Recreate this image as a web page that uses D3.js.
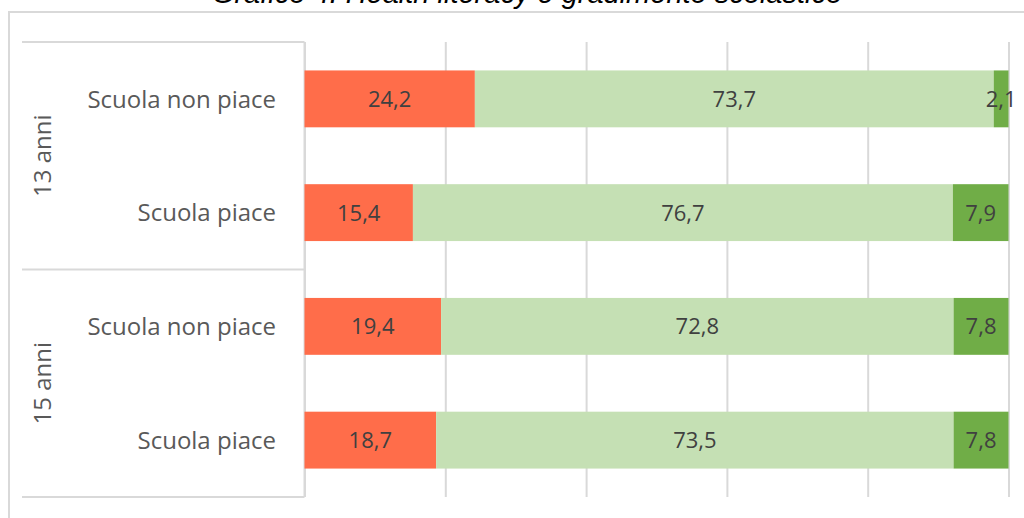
<!DOCTYPE html>
<html lang="it">
<head>
    <meta charset="UTF-8">
    <title>Grafico 4: Health literacy e gradimento scolastico</title>
    <script src="https://cdn.jsdelivr.net/npm/d3@7"></script>
    <style>
        body { margin: 0; background: #fff; }
        .grid line { stroke: #d9d9d9; stroke-width: 2px; }
        .grid .domain { display: none; }
        .box { stroke: #d9d9d9; stroke-width: 2px; fill: none; }
        .lbl { font-family: "Open Sans", sans-serif; fill: #595959; }
        .val { font-family: "Open Sans", sans-serif; fill: #404040; }
    </style>
</head>
<body>
    <svg width="1024" height="518"></svg>

    <script>
        // Data
        const title = "Grafico 4: Health literacy e gradimento scolastico";
        const groups = ["13 anni", "15 anni"];
        const rows = ["Scuola non piace", "Scuola piace", "Scuola non piace", "Scuola piace"];
        const lowValues = [24.2, 15.4, 19.4, 18.7];
        const midValues = [73.7, 76.7, 72.8, 73.5];
        const highValues = [2.1, 7.9, 7.8, 7.8];
        const colors = ["#ff6d4a", "#c5e0b4", "#70ad47"];
        const gridTicks = [0, 20, 40, 60, 80, 100];

        const svg = d3.select("svg");

        // Plot area
        const plotTop = 42, plotBottom = 497;
        const x = d3.scaleLinear().domain([0, 100]).range([304.5, 1008.5]);
        const y = d3.scaleBand().domain(d3.range(rows.length)).range([plotTop, plotBottom])
            .paddingInner(0.5).paddingOuter(0.25);

        // outer frame (runs past the picture on the right and bottom)
        svg.append("rect").attr("class", "box")
            .attr("x", 9).attr("y", 12).attr("width", 1030).attr("height", 520);

        // title, cut off at the top edge like in the source image
        svg.append("text")
            .attr("x", 527).attr("y", 3)
            .attr("text-anchor", "middle")
            .style("font-family", "'Liberation Sans', Arial, sans-serif")
            .style("font-style", "italic")
            .style("font-size", "29px")
            .style("fill", "#000")
            .text(title);

        // vertical gridlines
        svg.append("g").attr("class", "grid")
            .attr("transform", `translate(0,${plotBottom})`)
            .call(d3.axisBottom(x).tickValues(gridTicks).tickSize(-(plotBottom - plotTop)).tickFormat(""));

        // category box on the left
        const boxLeft = 22, boxRight = x(0);
        const groupEdges = [plotTop, (plotTop + plotBottom) / 2, plotBottom];
        svg.append("g").selectAll("line").data(groupEdges).join("line")
            .attr("class", "box")
            .attr("x1", boxLeft).attr("x2", boxRight)
            .attr("y1", d => d).attr("y2", d => d);
        svg.append("line").attr("class", "box")
            .attr("x1", boxRight).attr("x2", boxRight).attr("y1", plotTop).attr("y2", plotBottom);

        // stacked bars
        const segs = [];
        rows.forEach((r, i) => {
            let acc = 0;
            [lowValues[i], midValues[i], highValues[i]].forEach((v, k) => {
                segs.push({ i, k, v, x0: acc, x1: acc + v });
                acc += v;
            });
        });

        svg.append("g").selectAll("rect").data(segs).join("rect")
            .attr("x", d => x(d.x0))
            .attr("y", d => y(d.i))
            .attr("width", d => x(d.x1) - x(d.x0))
            .attr("height", y.bandwidth())
            .attr("fill", d => colors[d.k]);

        const fmt = v => v.toFixed(1).replace(".", ",");
        svg.append("g").selectAll("text").data(segs).join("text")
            .attr("class", "val")
            .attr("x", d => (x(d.x0) + x(d.x1)) / 2)
            .attr("y", d => y(d.i) + y.bandwidth() / 2)
            .attr("dy", "0.36em")
            .attr("text-anchor", "middle")
            .style("font-size", "22px")
            .text(d => fmt(d.v));

        // row labels
        svg.append("g").selectAll("text").data(rows).join("text")
            .attr("class", "lbl")
            .attr("x", 276)
            .attr("y", (d, i) => y(i) + y.bandwidth() / 2)
            .attr("dy", "0.36em")
            .attr("text-anchor", "end")
            .style("font-size", "24px")
            .text(d => d);

        // group labels, rotated
        svg.append("g").selectAll("text").data(groups).join("text")
            .attr("class", "lbl")
            .attr("transform", (d, g) => {
                const cy = (groupEdges[g] + groupEdges[g + 1]) / 2;
                return `translate(51,${cy}) rotate(-90)`;
            })
            .attr("text-anchor", "middle")
            .style("font-size", "24px")
            .text(d => d);
    </script>
</body>
</html>
